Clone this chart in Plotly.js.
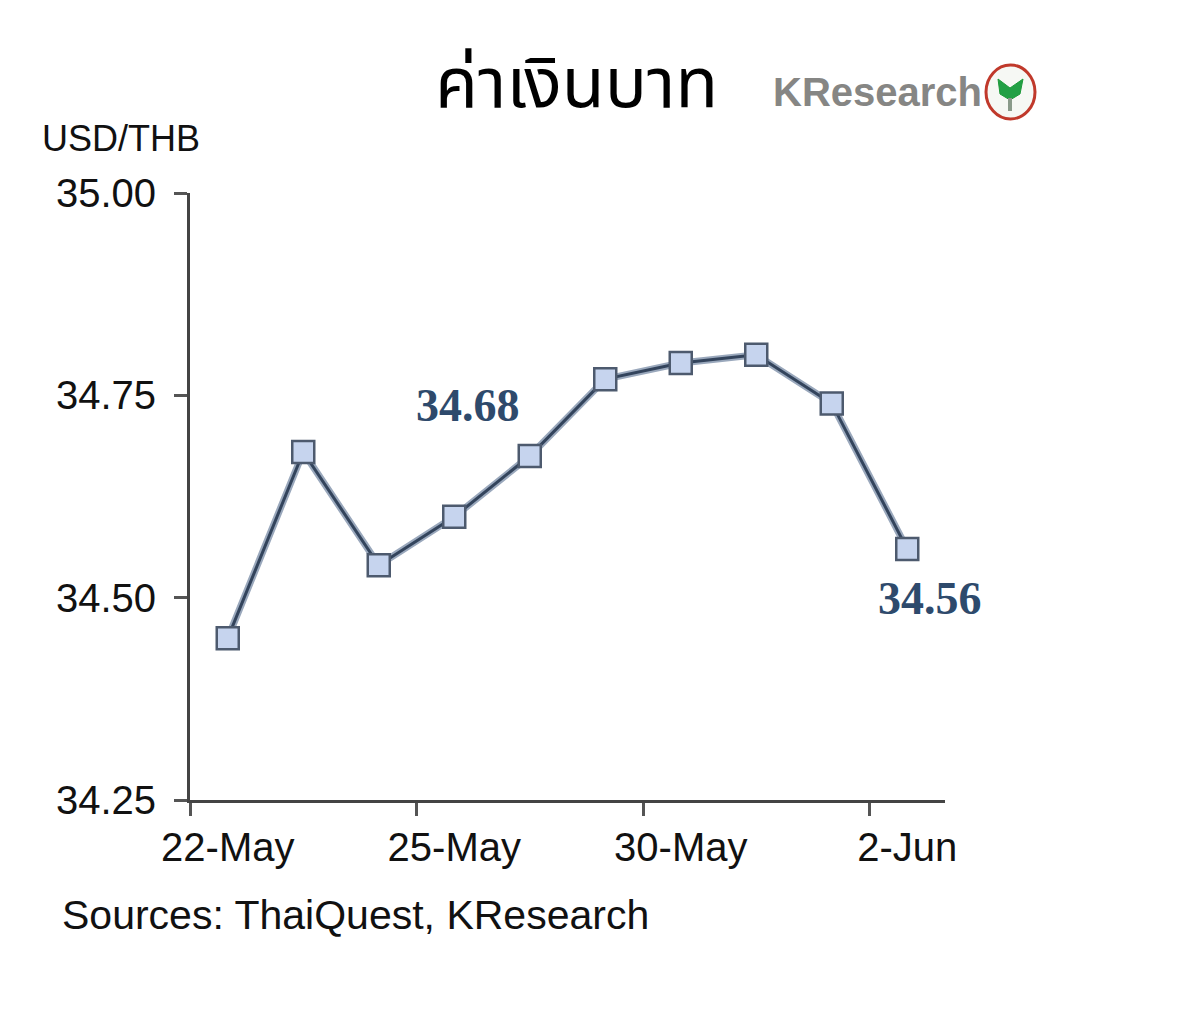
<!DOCTYPE html>
<html>
<head>
<meta charset="utf-8">
<script src="https://cdn.plot.ly/plotly-3.0.1.min.js"></script>
<style>html,body{margin:0;padding:0;background:#fff;}#chart{width:1200px;height:1013px;}</style>
</head>
<body>
<div id="chart"></div>
<script>
// Data
const dates = ["22-May","23-May","24-May","25-May","26-May","29-May","30-May","31-May","1-Jun","2-Jun"];
const usdThb = [34.45, 34.68, 34.54, 34.60, 34.675, 34.77, 34.79, 34.80, 34.74, 34.56];
const yTicks = [34.25, 34.50, 34.75, 35.00];
const titleText = "ค่าเงินบาท";
const unitText = "USD/THB";
const sourceText = "Sources: ThaiQuest, KResearch";
const brandText = "KResearch";

const lineColor = "#33445c";
const sans = "Liberation Sans, Arial, sans-serif";
const serif = "Liberation Serif, Times New Roman, serif";

// pixel -> paper helpers for decorations (plot area: x 190..945, y 193..800)
const px = v => (v - 190) / 755;
const py = v => (800 - v) / 607;

const traces = [
  { // soft halo under the line
    x: dates, y: usdThb, type: "scatter", mode: "lines",
    line: {color: "#9aa8bc", width: 7}, hoverinfo: "skip", showlegend: false
  },
  {
    x: dates, y: usdThb, type: "scatter", mode: "lines+markers",
    line: {color: lineColor, width: 3},
    marker: {symbol: "square", size: 22, color: "#c6d4ee", line: {color: "#4d5a6e", width: 2.5}},
    showlegend: false
  }
];

const ann = (text, x, y, font, xanchor) => ({
  text, xref: "paper", yref: "paper", x: px(x), y: py(y),
  xanchor: xanchor || "center", yanchor: "middle", showarrow: false, font
});

const layout = {
  width: 1200, height: 1013,
  margin: {l: 190, r: 255, t: 193, b: 213},
  paper_bgcolor: "#fff", plot_bgcolor: "#fff",
  showlegend: false,
  xaxis: {
    type: "category", range: [-0.5, 9.5],
    tickmode: "linear", tick0: 0, dtick: 3, tickson: "boundaries",
    tickangle: 0,
    ticks: "outside", ticklen: 13, tickwidth: 3, tickcolor: "#555",
    showline: true, linecolor: "#444", linewidth: 3,
    showgrid: false, zeroline: false,
    ticklabelstandoff: 10,
    tickfont: {family: sans, size: 40, color: "#111"}
  },
  yaxis: {
    range: [34.25, 35.0], tickvals: yTicks, tickformat: ".2f",
    ticks: "outside", ticklen: 13, tickwidth: 3, tickcolor: "#555",
    showline: true, linecolor: "#444", linewidth: 3,
    showgrid: false, zeroline: false,
    ticklabelstandoff: 10,
    tickfont: {family: sans, size: 40, color: "#111"}
  },
  annotations: [
    ann(titleText, 576, 86, {family: "Noto Sans Thai, Noto Sans, DejaVu Sans, sans-serif", size: 70, color: "#000"}),
    ann("<b>" + brandText + "</b>", 877, 92, {family: sans, size: 40, color: "#868684"}),
    ann(unitText, 40, 138, {family: sans, size: 36, color: "#111"}, "left"),
    ann(sourceText, 60, 915, {family: sans, size: 41, color: "#111"}, "left"),
    ann("<b>" + usdThb[1].toFixed(2) + "</b>", 468, 405, {family: serif, size: 46, color: "#2e4a6c"}),
    ann("<b>" + usdThb[9].toFixed(2) + "</b>", 930, 598, {family: serif, size: 46, color: "#2e4a6c"})
  ],
  shapes: [
    {type: "circle", xref: "paper", yref: "paper", x0: px(986), x1: px(1035), y0: py(119), y1: py(65),
     line: {color: "#c0392b", width: 3}, fillcolor: "#f6f8f4"},
    {type: "path", xref: "paper", yref: "paper",
     path: "M " + px(998) + " " + py(79) + " L " + px(1010) + " " + py(88) + " L " + px(1023) + " " + py(79) +
           " L " + px(1020) + " " + py(94) + " L " + px(1010) + " " + py(100) + " L " + px(1000) + " " + py(94) + " Z",
     line: {color: "#1f9a3a", width: 1}, fillcolor: "#22a045"},
    {type: "line", xref: "paper", yref: "paper", x0: px(1010), x1: px(1010), y0: py(98), y1: py(111),
     line: {color: "#8a9a8a", width: 4}}
  ]
};

Plotly.newPlot("chart", traces, layout, {staticPlot: true, displayModeBar: false});
</script>
</body>
</html>
